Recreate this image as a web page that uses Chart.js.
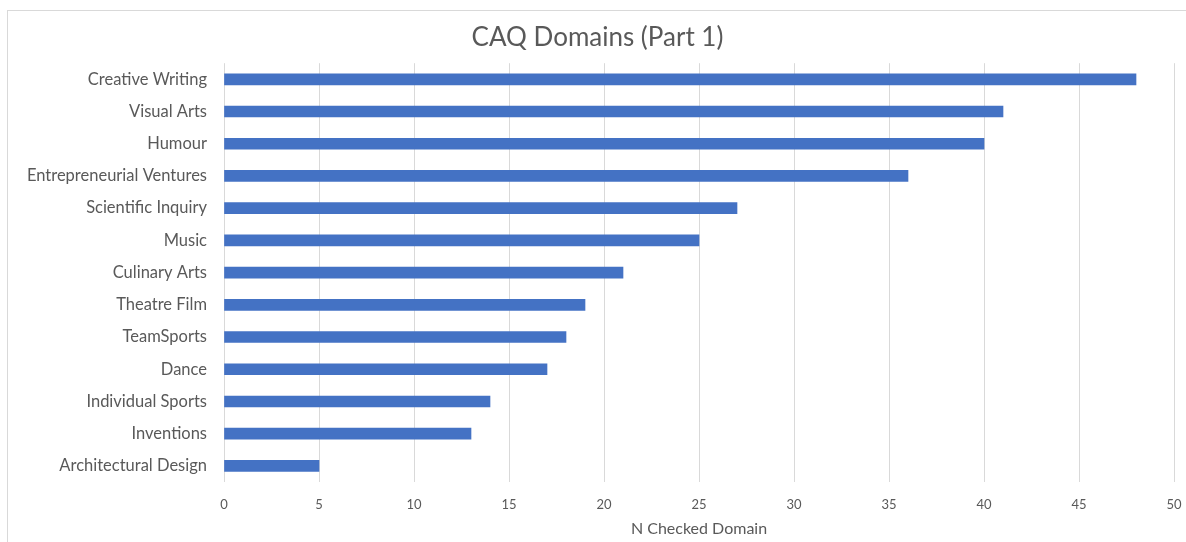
<!DOCTYPE html>
<html>
<head>
<meta charset="utf-8">
<script src="https://cdn.jsdelivr.net/npm/chart.js@4.4.1/dist/chart.umd.min.js"></script>
<style>
  html, body { margin: 0; padding: 0; background: #fff; overflow: hidden; }
  #frame { position: absolute; left: 7px; top: 10px; width: 1200px; height: 560px; border: 1px solid #d9d9d9; }
  #wrap { position: absolute; left: 0; top: 0; width: 1186px; height: 542px; }
</style>
</head>
<body>
<div id="frame"></div>
<div id="wrap"><canvas id="myChart"></canvas></div>
<script>
const domains = ['Creative Writing', 'Visual Arts', 'Humour', 'Entrepreneurial Ventures', 'Scientific Inquiry',
  'Music', 'Culinary Arts', 'Theatre Film', 'TeamSports', 'Dance', 'Individual Sports', 'Inventions', 'Architectural Design'];
const checkedCounts = [48, 41, 40, 36, 27, 25, 21, 19, 18, 17, 14, 13, 5];
const xTicks = [0, 5, 10, 15, 20, 25, 30, 35, 40, 45, 50];

const textColor = '#595959';
const fontFamily = 'Lato, "Open Sans", "Liberation Sans", sans-serif';

let ctx = document.getElementById('myChart').getContext('2d');
const myChart = new Chart(ctx, {
  type: 'bar',
  data: {
    labels: domains,
    datasets: [{
      label: 'N Checked Domain',
      data: checkedCounts,
      backgroundColor: '#4472C4',
      borderWidth: 0,
      barThickness: 11
    }]
  },
  options: {
    indexAxis: 'y',
    responsive: true,
    maintainAspectRatio: false,
    animation: false,
    // left/right padding also shifts the title centre to match the original
    layout: { padding: { left: 21, right: 12, top: 0, bottom: 0 } },
    plugins: {
      legend: { display: false },
      tooltip: { enabled: false },
      title: {
        display: true,
        text: 'CAQ Domains (Part 1)',
        color: textColor,
        font: { family: fontFamily, size: 26, weight: 'normal' },
        padding: { top: 22, bottom: 10 }
      }
    },
    scales: {
      x: {
        min: 0,
        max: 50,
        afterBuildTicks: (axis) => { axis.ticks = xTicks.map(v => ({ value: v })); },
        afterFit: (axis) => {
          axis.height = 60;
          axis.paddingLeft = 0;
          axis.paddingRight = 0;
        },
        grid: { color: '#d9d9d9', drawTicks: false },
        border: { display: false },
        ticks: { color: textColor, padding: 15, font: { family: fontFamily, size: 13 } },
        title: {
          display: true,
          text: 'N Checked Domain',
          color: textColor,
          font: { family: fontFamily, size: 16 },
          padding: { top: 4, bottom: 4 }
        }
      },
      y: {
        afterFit: (axis) => { axis.width = 203; },
        grid: { display: false, drawTicks: false },
        border: { display: false },
        ticks: { color: textColor, padding: 17, font: { family: fontFamily, size: 16.5 } }
      }
    }
  }
});
</script>
</body>
</html>
